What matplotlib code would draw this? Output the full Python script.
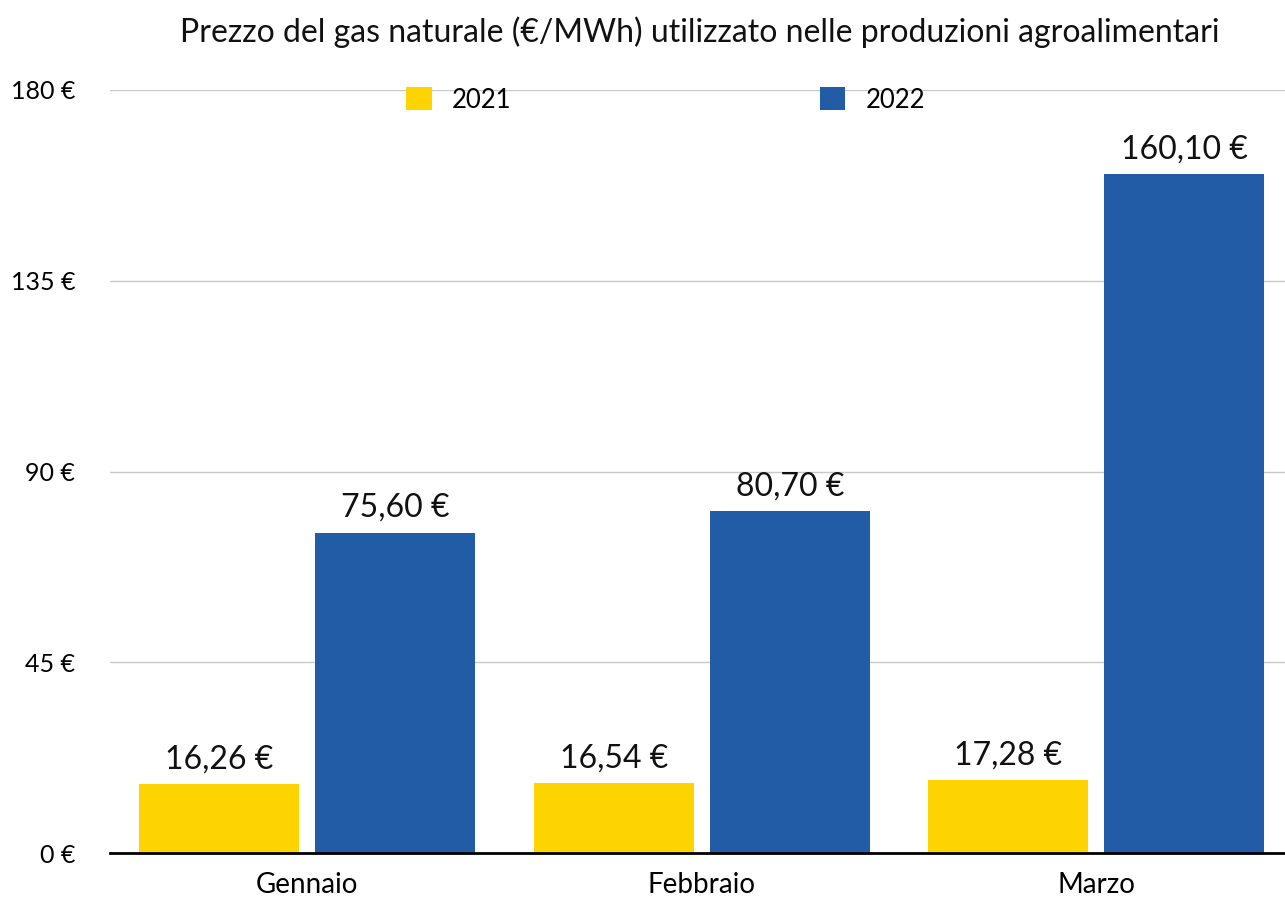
import numpy as np
import matplotlib.pyplot as plt

# data
mesi = ["Gennaio", "Febbraio", "Marzo"]
prezzi_2021 = [16.26, 16.54, 17.28]
prezzi_2022 = [75.60, 80.70, 160.10]
yticks = [0, 45, 90, 135, 180]

GIALLO = "#FDD300"
BLU = "#225CA7"

plt.rcParams['font.family'] = ['Lato', 'DejaVu Sans']

fig = plt.figure(figsize=(12.85, 8.97), dpi=100)
ax = fig.add_axes([0.0856, 0.049, 0.921, 0.8507])

x = np.arange(len(mesi))
w = 0.405
off = 0.223
b1 = ax.bar(x - off, prezzi_2021, w, color=GIALLO, label="2021", zorder=3)
b2 = ax.bar(x + off, prezzi_2022, w, color=BLU, label="2022", zorder=3)


def euro(v):
    return "{:.2f} €".format(v).replace(".", ",")


for bars, vals in [(b1, prezzi_2021), (b2, prezzi_2022)]:
    for rect, v in zip(bars, vals):
        ax.annotate(euro(v), (rect.get_x() + rect.get_width() / 2, v),
                    xytext=(0, 7), textcoords="offset points",
                    ha="center", va="bottom", fontsize=23, color="#111111")

ax.set_xlim(-0.5, 2.5)
ax.set_ylim(0, 180)
ax.set_yticks(yticks)
ax.set_yticklabels(["{} €".format(t) for t in yticks], fontsize=18)
ax.set_xticks(x)
ax.set_xticklabels(mesi, fontsize=20)
ax.tick_params(length=0)
ax.tick_params(axis="x", pad=14)
ax.tick_params(axis="y", pad=25)
ax.yaxis.grid(True, color="#c8c8c8", linewidth=1, zorder=0)
for s in ["top", "right", "left"]:
    ax.spines[s].set_visible(False)
ax.spines["bottom"].set_linewidth(2)
ax.spines["bottom"].set_zorder(4)

ax.legend(loc="center left", bbox_to_anchor=(0.25, 0.987), ncol=2, frameon=False,
          fontsize=18.5, handlelength=1.0, handleheight=1.0, handletextpad=0.78,
          columnspacing=12, borderpad=0, borderaxespad=0)

fig.text(0.14, 0.964, "Prezzo del gas naturale (€/MWh) utilizzato nelle produzioni agroalimentari",
         fontsize=23, ha="left", va="center", color="#111111")

fig.savefig("out.png", dpi=100)
